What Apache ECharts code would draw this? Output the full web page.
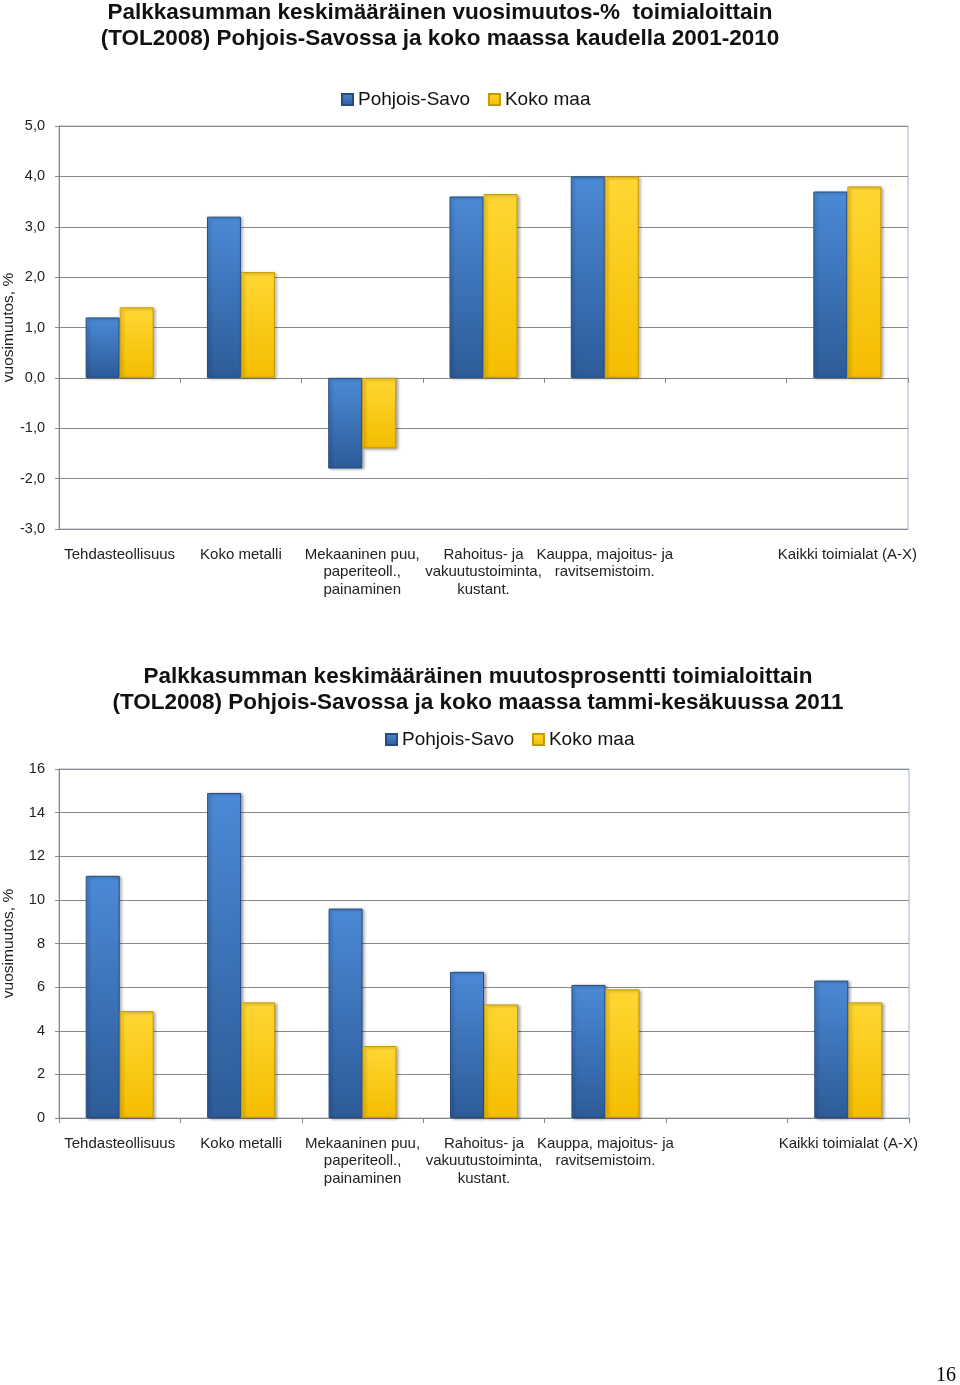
<!DOCTYPE html>
<html><head><meta charset="utf-8">
<script src="https://cdn.jsdelivr.net/npm/echarts@6/dist/echarts.min.js"></script>
<style>html,body{margin:0;padding:0;background:#fff}#c{width:960px;height:1385px}</style>
</head><body><div id="c"></div>
<script>
const categories = ['Tehdasteollisuus','Koko metalli','Mekaaninen puu,\npaperiteoll.,\npainaminen','Rahoitus- ja\nvakuutustoiminta,\nkustant.','Kauppa, majoitus- ja\nravitsemistoim.','','Kaikki toimialat (A-X)'];
const seriesNames = ['Pohjois-Savo','Koko maa'];
const chart1PohjoisSavo = [1.2, 3.2, -1.8, 3.6, 4.0, null, 3.7];
const chart1KokoMaa     = [1.4, 2.1, -1.4, 3.65, 4.0, null, 3.8];
const chart2PohjoisSavo = [11.1, 14.9, 9.6, 6.7, 6.1, null, 6.3];
const chart2KokoMaa     = [4.9, 5.3, 3.3, 5.2, 5.9, null, 5.3];
const title1 = 'Palkkasumman keskimääräinen vuosimuutos-%  toimialoittain\n(TOL2008) Pohjois-Savossa ja koko maassa kaudella 2001-2010';
const title2 = 'Palkkasumman keskimääräinen muutosprosentti toimialoittain\n(TOL2008) Pohjois-Savossa ja koko maassa tammi-kesäkuussa 2011';
const axisName = 'vuosimuutos, %';

const FONT = 'Liberation Sans, Arial, sans-serif';
const blue = new echarts.graphic.LinearGradient(0,0,0,1,[{offset:0,color:'#4b8ad6'},{offset:1,color:'#2d5b98'}]);
const yellow = new echarts.graphic.LinearGradient(0,0,0,1,[{offset:0,color:'#ffd733'},{offset:1,color:'#f4bd00'}]);
const styles = [
  {color: blue, borderColor:'#244c82', borderWidth:1, shadowBlur:3, shadowOffsetX:2, shadowOffsetY:1, shadowColor:'rgba(0,0,0,0.35)'},
  {color: yellow, borderColor:'#c79a00', borderWidth:1, shadowBlur:3, shadowOffsetX:2, shadowOffsetY:1, shadowColor:'rgba(0,0,0,0.35)'}
];
const grids = [
  {left:59, top:126, width:849, height:403, show:true, borderColor:'#9fb3cb', borderWidth:1, backgroundColor:'#fff', containLabel:false, outerBoundsMode:'none'},
  {left:59, top:769, width:850, height:349, show:true, borderColor:'#9fb3cb', borderWidth:1, backgroundColor:'#fff', containLabel:false, outerBoundsMode:'none'}
];
function xAxes(gi){
  return [
    {type:'category', gridIndex:gi, data:categories, axisLine:{onZero:true, lineStyle:{color:'#868686'}},
     axisTick:{show:true, interval:0, length:5, lineStyle:{color:'#868686'}}, axisLabel:{show:false}},
    {type:'category', gridIndex:gi, data:categories, position:'bottom', axisLine:{show:false, onZero:false}, axisTick:{show:false},
     axisLabel:{show:true, interval:0, margin:17, color:'#222', fontSize:15, fontFamily:FONT, lineHeight:17.5, verticalAlign:'top'}}
  ];
}
const yLabel = {fontSize:14.5, color:'#222', margin:14, fontFamily:FONT};
const option = {
  animation:false,
  textStyle:{fontFamily:FONT},
  title:[
    {text:title1, left:440, textAlign:'center', top:0, padding:0, textStyle:{fontSize:22.5, fontWeight:'bold', color:'#111', lineHeight:26, fontFamily:FONT}},
    {text:title2, left:478, textAlign:'center', top:664, padding:0, textStyle:{fontSize:22.5, fontWeight:'bold', color:'#111', lineHeight:26, fontFamily:FONT}}
  ],
  legend:[
    {data:seriesNames, left:341, top:90, padding:0, itemWidth:11, itemHeight:11, itemGap:18, icon:'rect', textStyle:{fontSize:19, color:'#111', fontFamily:FONT}},
    {data:seriesNames, left:385, top:730, padding:0, itemWidth:11, itemHeight:11, itemGap:18, icon:'rect', textStyle:{fontSize:19, color:'#111', fontFamily:FONT}}
  ],
  grid:grids,
  xAxis:[...xAxes(0), ...xAxes(1)],
  yAxis:[
    {type:'value', gridIndex:0, min:-3, max:5, interval:1, name:axisName, nameLocation:'middle', nameGap:42, nameMoveOverlap:false,
     nameTextStyle:{fontSize:15.5, color:'#222', fontFamily:FONT},
     axisLine:{show:true, lineStyle:{color:'#868686'}}, axisTick:{show:true, length:4, lineStyle:{color:'#868686'}},
     axisLabel:Object.assign({}, yLabel, {formatter:v=>v.toFixed(1).replace('.',',')}),
     splitLine:{lineStyle:{color:'#8a8a8a', width:1}}},
    {type:'value', gridIndex:1, min:0, max:16, interval:2, name:axisName, nameLocation:'middle', nameGap:42, nameMoveOverlap:false,
     nameTextStyle:{fontSize:15.5, color:'#222', fontFamily:FONT},
     axisLine:{show:true, lineStyle:{color:'#868686'}}, axisTick:{show:true, length:4, lineStyle:{color:'#868686'}},
     axisLabel:yLabel,
     splitLine:{lineStyle:{color:'#8a8a8a', width:1}}}
  ],
  series:[
    {name:seriesNames[0], type:'bar', xAxisIndex:0, yAxisIndex:0, data:chart1PohjoisSavo, barWidth:34, barGap:'0%', itemStyle:styles[0]},
    {name:seriesNames[1], type:'bar', xAxisIndex:0, yAxisIndex:0, data:chart1KokoMaa, barWidth:34, barGap:'0%', itemStyle:styles[1]},
    {name:seriesNames[0], type:'bar', xAxisIndex:2, yAxisIndex:1, data:chart2PohjoisSavo, barWidth:34, barGap:'0%', itemStyle:styles[0]},
    {name:seriesNames[1], type:'bar', xAxisIndex:2, yAxisIndex:1, data:chart2KokoMaa, barWidth:34, barGap:'0%', itemStyle:styles[1]}
  ],
  graphic:[
    {type:'text', right:4, top:1366, style:{text:'16', font:'20px "Liberation Serif", "DejaVu Serif", serif', fill:'#000'}}
  ]
};
const chart = echarts.init(document.getElementById('c'), null, {renderer:'canvas'});
chart.setOption(option);
</script></body></html>
